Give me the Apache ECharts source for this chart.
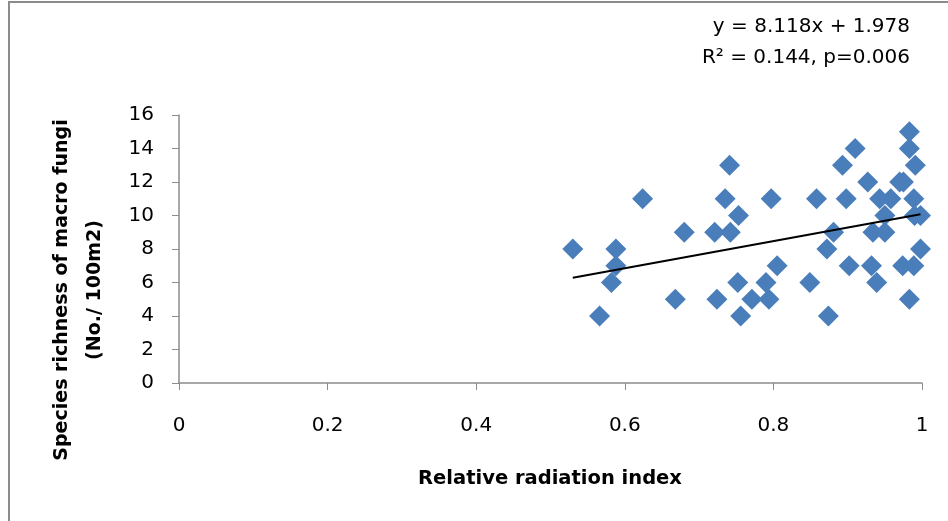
<!DOCTYPE html>
<html>
<head>
<meta charset="utf-8">
<script src="https://cdn.jsdelivr.net/npm/echarts@6/dist/echarts.min.js"></script>
<style>
  html, body { margin: 0; padding: 0; background: #fff; }
  #main { width: 948px; height: 521px; }
</style>
</head>
<body>
<div id="main"></div>
<script>
// relative radiation index (x) and species richness (y)
var radiation = [
  0.530, 0.566, 0.582, 0.588, 0.588, 0.624, 0.668, 0.680, 0.721, 0.724,
  0.735, 0.741, 0.742, 0.753, 0.752, 0.756, 0.771, 0.790, 0.794, 0.805,
  0.797, 0.849, 0.858, 0.872, 0.874, 0.881, 0.893, 0.898, 0.902, 0.910,
  0.927, 0.932, 0.934, 0.939, 0.943, 0.950, 0.950, 0.958, 0.970, 0.975,
  0.974, 0.989, 0.983, 0.983, 0.991, 0.989, 0.990, 0.998, 0.998, 0.983
];
var richness = [
  8, 4, 6, 7, 8, 11, 5, 9, 9, 5,
  11, 13, 9, 10, 6, 4, 5, 6, 5, 7,
  11, 6, 11, 8, 4, 9, 13, 11, 7, 14,
  12, 7, 9, 6, 11, 10, 9, 11, 12, 12,
  7, 7, 15, 14, 13, 11, 10, 10, 8, 5
];
var slope = 8.118, intercept = 1.978;
var xTicks = [0, 0.2, 0.4, 0.6, 0.8, 1];
var yTicks = [0, 2, 4, 6, 8, 10, 12, 14, 16];
var eqLines = ['y = 8.118x + 1.978', 'R\u00b2 = 0.144, p=0.006'];
var xTitle = 'Relative radiation index';
var yTitle = 'Species richness of macro fungi\n(No./ 100m2)';

var points = radiation.map(function (x, i) { return [x, richness[i]]; });
var xMin = Math.min.apply(null, radiation), xMax = Math.max.apply(null, radiation);
var trend = [[xMin, slope * xMin + intercept], [xMax, slope * xMax + intercept]];

var chart = echarts.init(document.getElementById('main'));
var font = 'DejaVu Sans, sans-serif';

chart.setOption({
  animation: false,
  grid: { left: 179, right: 26, top: 115, bottom: 138 },
  graphic: [
    { type: 'line', shape: { x1: 9, y1: 2, x2: 9, y2: 521 }, style: { stroke: '#8c8c8c', lineWidth: 2 } },
    { type: 'line', shape: { x1: 8, y1: 2, x2: 948, y2: 2 }, style: { stroke: '#8c8c8c', lineWidth: 2 } },
    { type: 'text', x: 910, y: 27, style: { text: eqLines[0], font: '20px ' + font, fill: '#000', textAlign: 'right', textVerticalAlign: 'middle' } },
    { type: 'text', x: 910, y: 58, style: { text: eqLines[1], font: '20px ' + font, fill: '#000', textAlign: 'right', textVerticalAlign: 'middle' } },
    { type: 'text', x: 550, y: 479, style: { text: xTitle, font: 'bold 19.5px ' + font, fill: '#000', textAlign: 'center', textVerticalAlign: 'middle' } },
    { type: 'text', x: 79, y: 290, rotation: Math.PI / 2,
      style: { text: yTitle, font: 'bold 19px ' + font, fill: '#000', textAlign: 'center', textVerticalAlign: 'middle', lineHeight: 33 } }
  ],
  xAxis: {
    type: 'value', min: 0, max: 1, interval: 0.2,
    axisLine: { show: true, lineStyle: { color: '#8c8c8c', width: 1.5 } },
    axisTick: { show: true, length: 7, lineStyle: { color: '#8c8c8c' } },
    axisLabel: { fontFamily: font, fontSize: 20, color: '#000', margin: 33,
      formatter: function (v) { return xTicks.indexOf(+v.toFixed(1)) >= 0 ? String(+v.toFixed(1)) : ''; } },
    splitLine: { show: false }
  },
  yAxis: {
    type: 'value', min: 0, max: 16, interval: 2,
    axisLine: { show: true, lineStyle: { color: '#8c8c8c', width: 1.5 } },
    axisTick: { show: true, length: 7, lineStyle: { color: '#8c8c8c' } },
    axisLabel: { fontFamily: font, fontSize: 20, color: '#000', margin: 25,
      formatter: function (v) { return yTicks.indexOf(v) >= 0 ? String(v) : ''; } },
    splitLine: { show: false }
  },
  series: [
    {
      type: 'scatter', data: points, symbol: 'diamond', symbolSize: 21,
      itemStyle: { color: '#4a7ebb', opacity: 1 }, z: 2
    },
    {
      type: 'line', data: trend, symbol: 'none', z: 3,
      lineStyle: { color: '#000', width: 2 }
    }
  ]
});
</script>
</body>
</html>
